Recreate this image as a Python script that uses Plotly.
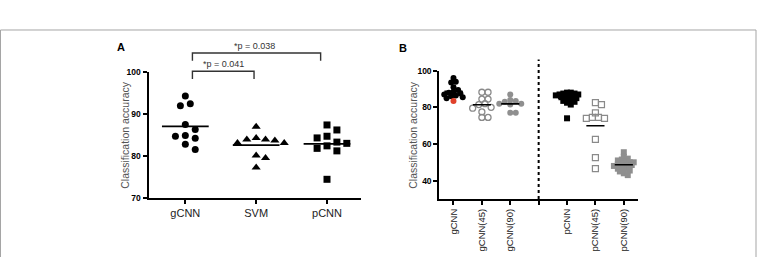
import plotly.graph_objects as go
import numpy as np

# ---------------- data ----------------
a_categories = ["gCNN", "SVM", "pCNN"]
a_gcnn = [94.3, 92.5, 92.0, 87.5, 86.3, 84.7, 84.9, 84.2, 82.8, 81.5]
a_svm = [87.0, 84.3, 83.9, 83.9, 83.7, 83.1, 83.1, 80.1, 79.5, 77.2]
a_pcnn = [87.4, 86.2, 84.7, 84.3, 83.3, 83.0, 82.4, 81.8, 81.2, 74.4]

b_categories = ["gCNN", "gCNN(45)", "gCNN(90)", "", "pCNN", "pCNN(45)", "pCNN(90)"]
b_gcnn = [96, 94, 93.5, 91, 89.5, 88.5, 88, 87.5, 87, 86.5, 86, 85.5, 85]
b_gcnn_red = [83.5]
b_gcnn45 = [88.2, 88.2, 84.5, 84.5, 82, 81.5, 80, 79.5, 77.5, 74.5, 74.5]
b_gcnn90 = [87, 84, 83.5, 83, 82, 82, 81.5, 77, 77]
b_pcnn = [88, 88, 87.5, 87.5, 87, 87, 86.5, 86.5, 86, 86, 85.5, 85, 84.5, 84,
          83.5, 83, 82.5, 81.5, 74]
b_pcnn45 = [82.5, 81.5, 77, 74.5, 74.5, 74.0, 74.0, 62.5, 52.5, 46.5]
b_pcnn90 = [55.5, 53, 52, 51.5, 51, 50.5, 50, 50, 49.5, 49, 48.5, 48.5, 48, 47.5,
            47, 46.5, 46, 45.5, 45, 44, 43]

p_labels = ["*p = 0.041", "*p = 0.038"]

# ---------------- geometry ----------------
W, H = 760, 257


def px_x(p):
    return p / W


def px_y(p):
    return 1 - p / H


A_XR = [-0.52, 2.48]
A_YR = [70, 100]
A_XD = [px_x(148.5), px_x(361)]
A_YD = [px_y(200.5), px_y(70)]

B_XR = [0.5, 7.5]
B_YR = [30, 100]
B_XD = [px_x(439.3), px_x(638)]
B_YD = [px_y(201.8), px_y(68.3)]


def scale(dom, rng, total):
    return (dom[1] - dom[0]) * total / (rng[1] - rng[0])


A_SX, A_SY = scale(A_XD, A_XR, W), scale(A_YD, A_YR, H)
B_SX, B_SY = scale(B_XD, B_XR, W), scale(B_YD, B_YR, H)


def beeswarm(vals, center, sx, sy, diam):
    n = len(vals)
    order = sorted(range(n), key=lambda i: -vals[i])
    placed = []
    offs = [0.0] * n
    step = diam * 0.55
    for i in order:
        y = vals[i] * sy
        k = 0
        while True:
            m = (k + 1) // 2 * (1 if k % 2 == 1 else -1)
            x = m * step
            if all((x - px) ** 2 + (y - py) ** 2 >= (diam * 0.95) ** 2 for px, py in placed):
                placed.append((x, y))
                offs[i] = x
                break
            k += 1
    return [center + o / sx for o in offs]


fig = go.Figure()


def add_group(vals, center, xa, ya, sx, sy, diam, symbol, color, size, half, colors=None,
              lw=0):
    xs = beeswarm(vals, center, sx, sy, diam)
    fig.add_trace(go.Scatter(
        x=xs, y=vals, mode="markers", xaxis=xa, yaxis=ya, showlegend=False,
        marker=dict(symbol=symbol, size=size, color=colors if colors else color,
                    line=dict(width=lw, color=color)),
        cliponaxis=False))
    m = float(np.mean(vals))
    fig.add_trace(go.Scatter(
        x=[center - half, center + half], y=[m, m], mode="lines", xaxis=xa, yaxis=ya,
        showlegend=False, line=dict(color="black", width=1.6)))


# Panel A
add_group(a_gcnn, 0, "x", "y", A_SX, A_SY, 9, "circle", "black", 7, 0.33)
add_group(a_svm, 1, "x", "y", A_SX, A_SY, 8.5, "triangle-up", "black", 8, 0.33)
add_group(a_pcnn, 2, "x", "y", A_SX, A_SY, 9, "square", "black", 7, 0.33)

# Panel B
gcnn_all = b_gcnn + b_gcnn_red
gcnn_cols = ["black"] * len(b_gcnn) + ["#e0402a"] * len(b_gcnn_red)
add_group(gcnn_all, 1, "x2", "y2", B_SX, B_SY, 4.2, "circle", "black", 6, 0.32,
          colors=gcnn_cols)
add_group(b_gcnn45, 2, "x2", "y2", B_SX, B_SY, 5.6, "circle-open", "#8a8a8a", 6, 0.32, lw=1.3)
add_group(b_gcnn90, 3, "x2", "y2", B_SX, B_SY, 5, "circle", "#8f8f8f", 6, 0.32)
add_group(b_pcnn, 5, "x2", "y2", B_SX, B_SY, 3.4, "square", "black", 6, 0.32)
add_group(b_pcnn45, 6, "x2", "y2", B_SX, B_SY, 5.5, "square-open", "#8a8a8a", 6, 0.32, lw=1.2)
add_group(b_pcnn90, 7, "x2", "y2", B_SX, B_SY, 3.6, "square", "#8f8f8f", 6, 0.32)

tick_font_y = dict(family="Liberation Sans, Arial, sans-serif", size=8.5, color="black",
                   weight="bold")
axis_common = dict(showgrid=False, zeroline=False, showline=True, linecolor="black",
                   linewidth=2, ticks="outside", ticklen=4, tickwidth=2,
                   tickcolor="black")

fig.update_layout(
    width=W, height=H, margin=dict(l=0, r=0, t=0, b=0),
    paper_bgcolor="white", plot_bgcolor="white",
    xaxis=dict(domain=A_XD, range=A_XR, tickvals=[0, 1, 2], ticktext=a_categories,
               tickfont=dict(family="Liberation Sans, Arial, sans-serif", size=11,
                             color="#222"), anchor="y", **axis_common),
    yaxis=dict(domain=A_YD, range=A_YR, tickvals=[70, 80, 90, 100], tickfont=tick_font_y,
               anchor="x", **axis_common),
    xaxis2=dict(domain=B_XD, range=B_XR, tickvals=list(range(1, 8)), ticktext=b_categories,
                tickangle=-90,
                tickfont=dict(family="Liberation Sans, Arial, sans-serif", size=9.5,
                              color="#222"), anchor="y2", **axis_common),
    yaxis2=dict(domain=B_YD, range=B_YR, tickvals=[40, 60, 80, 100], tickfont=tick_font_y,
                anchor="x2", **axis_common),
)

shapes = []
# outer frame
shapes.append(dict(type="rect", xref="paper", yref="paper", x0=px_x(0.5), x1=px_x(756),
                   y0=-0.2, y1=px_y(26), line=dict(color="#a5a5a5", width=1)))
# significance brackets (panel A)
brackets = [(0.1, 0.97, 69, 77), (0.1, 1.91, 50, 58)]
for x0, x1, ytop, yleg in brackets:
    shapes.append(dict(type="path", xref="x", yref="paper",
                       path=f"M {x0} {px_y(yleg)} L {x0} {px_y(ytop)} L {x1} {px_y(ytop)} L {x1} {px_y(yleg)}",
                       line=dict(color="#333", width=1.4)))
# dotted separator (panel B)
shapes.append(dict(type="line", xref="x2", yref="paper", x0=4, x1=4,
                   y0=B_YD[0], y1=px_y(56.7), line=dict(color="black", width=2, dash="dot")))
fig.update_layout(shapes=shapes)

ann = []
common_anchor = dict(xanchor="center", yanchor="middle", showarrow=False)
ann.append(dict(text="<b>A</b>", xref="paper", yref="paper", x=px_x(121), y=px_y(44),
                font=dict(family="Liberation Sans, Arial", size=11, color="black"),
                **common_anchor))
ann.append(dict(text="<b>B</b>", xref="paper", yref="paper", x=px_x(403), y=px_y(45),
                font=dict(family="Liberation Sans, Arial", size=11, color="black"),
                **common_anchor))
for xc in (125, 413):
    ann.append(dict(text="Classification accuracy", xref="paper", yref="paper",
                    x=px_x(xc), y=px_y(135), textangle=-90,
                    font=dict(family="Liberation Sans, Arial", size=10.5, color="#555"),
                    **common_anchor))
ann.append(dict(text=p_labels[0], xref="x", yref="paper", x=0.54, y=px_y(61),
                font=dict(family="Liberation Sans, Arial", size=9, color="#333"),
                **common_anchor))
ann.append(dict(text=p_labels[1], xref="x", yref="paper", x=0.97, y=px_y(43),
                font=dict(family="Liberation Sans, Arial", size=9, color="#333"),
                **common_anchor))
fig.update_layout(annotations=ann)

fig.write_html("out.html")
